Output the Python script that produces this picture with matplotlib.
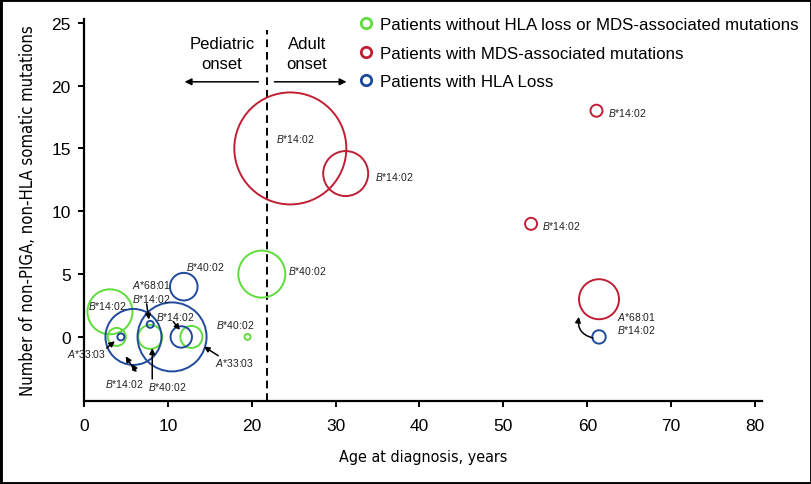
import matplotlib
matplotlib.use('Agg')
import matplotlib.pyplot as plt
from matplotlib.lines import Line2D
from matplotlib.patches import Rectangle

plt.rcParams['font.family'] = ['Liberation Sans', 'DejaVu Sans']
plt.rcParams['mathtext.fontset'] = 'custom'
plt.rcParams['mathtext.rm'] = 'Liberation Sans'
plt.rcParams['mathtext.it'] = 'Liberation Sans:italic'

# patients without HLA loss or MDS-associated mutations
green_age = [3.1, 3.9, 7.9, 12.8, 19.5, 21.2]
green_mut = [2, 0, 0, 0, 0, 5]
green_size = [22.5, 9, 12, 11, 3, 23.5]

# patients with MDS-associated mutations
red_age = [24.6, 31.2, 53.3, 61.1, 61.4]
red_mut = [15, 13, 9, 18, 3]
red_size = [56, 22.5, 6, 6, 20]

# patients with HLA loss
blue_age = [4.4, 5.9, 7.9, 10.5, 11.6, 11.9, 61.4]
blue_mut = [0, 0, 1, 0, 0, 4, 0]
blue_size = [3.5, 28, 3.5, 34.5, 10.7, 13.8, 6.7]

green = '#5fdc3c'
red = '#c01f33'
blue = '#1f4a9c'

legend_labels = ['Patients without HLA loss or MDS-associated mutations',
                 'Patients with MDS-associated mutations',
                 'Patients with HLA Loss']

# HLA allele labels: (text, x, y, ha)
allele_labels = [
    ('$B$*14:02', 22.95, 15.84, 'left'),
    ('$B$*14:02', 34.7, 12.84, 'left'),
    ('$B$*40:02', 24.3, 5.33, 'left'),
    ('$B$*14:02', 54.55, 8.9, 'left'),
    ('$B$*14:02', 62.5, 17.9, 'left'),
    ('$A$*68:01', 63.5, 1.7, 'left'),
    ('$B$*14:02', 63.5, 0.64, 'left'),
    ('$B$*40:02', 12.2, 5.65, 'left'),
    ('$A$*68:01', 8.0, 4.18, 'center'),
    ('$B$*14:02', 8.0, 3.1, 'center'),
    ('$B$*14:02', 10.85, 1.7, 'center'),
    ('$B$*14:02', 2.8, 2.55, 'center'),
    ('$B$*40:02', 18.0, 1.03, 'center'),
    ('$A$*33:03', 0.32, -1.3, 'center'),
    ('$A$*33:03', 17.96, -1.97, 'center'),
    ('$B$*14:02', 4.77, -3.66, 'center'),
    ('$B$*40:02', 9.9, -3.88, 'center'),
]

# pointer arrows: (tail x, tail y, head x, head y)
pointers = [
    (7.47, 2.63, 7.75, 1.38),
    (10.64, 1.22, 11.44, 0.56),
    (2.71, -0.88, 3.69, -0.34),
    (16.0, -1.49, 14.3, -0.77),
    (6.08, -2.71, 4.97, -1.54),
    (6.2, -2.71, 5.69, -2.15),
    (8.14, -3.34, 8.14, -0.9),
]

fig = plt.figure(figsize=(8.12, 4.85), dpi=100)
ax = fig.add_axes([0.1034, 0.1711, 0.8347, 0.7877])


def px_to_s(r):
    # radius in pixels -> scatter size in points^2
    return (2 * r * 0.72) ** 2


for ages, muts, sizes, col in [(green_age, green_mut, green_size, green),
                               (red_age, red_mut, red_size, red),
                               (blue_age, blue_mut, blue_size, blue)]:
    ax.scatter(ages, muts, s=[px_to_s(r) for r in sizes], facecolors='none',
               edgecolors=col, linewidths=1.4, zorder=3)

ax.axvline(21.8, ymax=0.97, color='black', lw=1.4, ls=(0, (4, 2.5)), zorder=2)

for txt, x, y, ha in allele_labels:
    ax.text(x, y, txt, fontsize=7.5, ha=ha, va='center', color='#222222', zorder=5)

for x0, y0, x1, y1 in pointers:
    ax.annotate('', xy=(x1, y1), xytext=(x0, y0),
                arrowprops=dict(arrowstyle='-|>', color='black', lw=1.1,
                                mutation_scale=8, shrinkA=0, shrinkB=0), zorder=6)

ax.annotate('', xy=(59.0, 1.6), xytext=(60.67, -0.08),
            arrowprops=dict(arrowstyle='-|>', color='black', lw=1.1, mutation_scale=8,
                            shrinkA=0, shrinkB=0, connectionstyle='arc3,rad=-0.45'))

# onset annotations
ax.text(16.45, 22.55, 'Pediatric\nonset', fontsize=12, ha='center', va='center',
        linespacing=1.35)
ax.text(26.6, 22.55, 'Adult\nonset', fontsize=12, ha='center', va='center',
        linespacing=1.35)
ax.annotate('', xy=(12.0, 20.3), xytext=(20.8, 20.3),
            arrowprops=dict(arrowstyle='-|>', color='black', lw=1.1,
                            mutation_scale=10, shrinkA=0, shrinkB=0))
ax.annotate('', xy=(31.3, 20.3), xytext=(22.7, 20.3),
            arrowprops=dict(arrowstyle='-|>', color='black', lw=1.1,
                            mutation_scale=10, shrinkA=0, shrinkB=0))

ax.set_xlim(0, 80.8)
ax.set_ylim(-5.1, 25.3)
ax.set_xticks(range(0, 81, 10))
ax.set_yticks(range(0, 26, 5))
ax.spines['top'].set_visible(False)
ax.spines['right'].set_visible(False)
ax.spines['left'].set_linewidth(1.6)
ax.spines['bottom'].set_linewidth(1.6)
ax.tick_params(labelsize=12.5, length=4.5, width=1.4)
ax.tick_params(axis='x', pad=8)
ax.tick_params(axis='y', pad=5)

cond = dict(family='DejaVu Sans', stretch='condensed')
ax.set_xlabel('Age at diagnosis, years', fontsize=11.5, labelpad=11, **cond)
ax.set_ylabel('Number of non-PIGA, non-HLA somatic mutations', fontsize=12,
              labelpad=10, **cond)

handles = [Line2D([], [], ls='none', marker='o', ms=7.5, mfc='none', mec=c, mew=2)
           for c in (green, red, blue)]
fig.legend(handles, legend_labels, loc='upper left', bbox_to_anchor=(0.443, 0.962),
           frameon=False, fontsize=12.2, handlelength=0.8, handletextpad=0.4,
           labelspacing=0.78, borderpad=0, borderaxespad=0)

fig.patches.append(Rectangle((0, 0), 1, 1, transform=fig.transFigure, fill=False,
                             edgecolor='black', lw=3.5))

fig.savefig('out.png', dpi=100)
